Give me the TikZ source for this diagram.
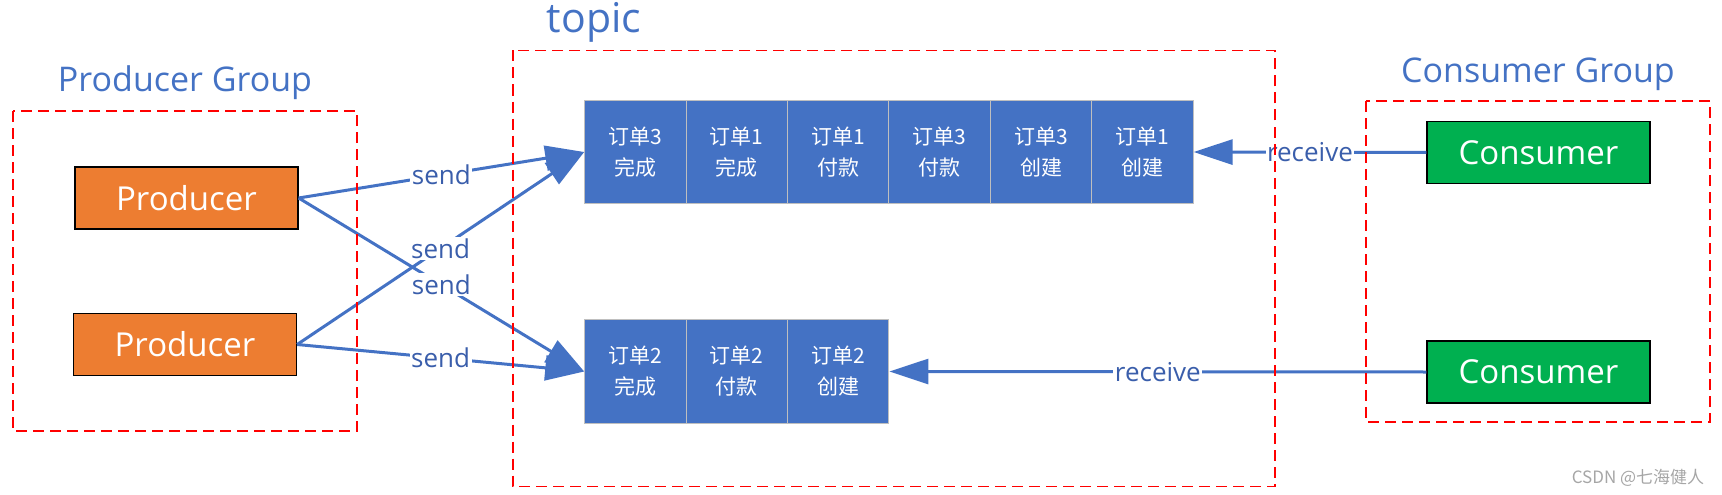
\documentclass[tikz,border=0pt]{standalone}
\usepackage{fontspec}
\setmainfont{Open Sans}
\newfontfamily\cjk{Noto Sans CJK SC}
\usetikzlibrary{arrows.meta}
\definecolor{oblue}{HTML}{4472C4}
\definecolor{lblue}{HTML}{3A5EAB}
\definecolor{oorange}{HTML}{ED7D31}
\definecolor{ogreen}{HTML}{00B050}
\definecolor{cellline}{HTML}{BFBFBF}
\definecolor{wm}{HTML}{A6A6A6}
\begin{document}
\begin{tikzpicture}[x=1pt,y=-1pt,
 groupbox/.style={draw=red, line width=1.2pt, dash pattern=on 11pt off 6pt},
 actor/.style={draw=black, line width=1.3pt, minimum width=223pt, minimum height=62pt, text=white, font=\fontsize{33}{40}\selectfont, inner sep=0pt},
 cell/.style={draw=cellline, line width=1pt, fill=oblue, minimum width=101.4pt, minimum height=103.5pt, text=white, font=\cjk\fontsize{21}{31}\selectfont, align=center, inner sep=0pt},
 title/.style={text=oblue, anchor=base, inner sep=0pt},
 link/.style={draw=oblue, line width=3pt},
 arr/.style={link, -{Triangle[length=39pt,width=25pt]}},
 lbl/.style={fill=white, text=lblue, inner sep=1.5pt, font=\fontsize{26}{30}\selectfont},
]
\useasboundingbox (0,0) rectangle (1722,495);
% cells row 1
\node[cell] (a1) at (635.4,152) {订单3\\完成};
\node[cell] (a2) at (736.8,152) {订单1\\完成};
\node[cell] (a3) at (838.2,152) {订单1\\付款};
\node[cell] (a4) at (939.6,152) {订单3\\付款};
\node[cell] (a5) at (1041.0,152) {订单3\\创建};
\node[cell] (a6) at (1142.4,152) {订单1\\创建};
% cells row 2
\node[cell] (b1) at (635.4,371.5) {订单2\\完成};
\node[cell] (b2) at (736.8,371.5) {订单2\\付款};
\node[cell] (b3) at (838.2,371.5) {订单2\\创建};
% actors
\node[actor, fill=oorange] (p1) at (186.5,198) {Producer};
\node[actor, fill=oorange] (p2) at (185,344.5) {Producer};
\node[actor, fill=ogreen] (c1) at (1538.5,152.5) {Consumer};
\node[actor, fill=ogreen] (c2) at (1538.5,372) {Consumer};
% connectors
\draw[arr] (p1.east) -- node[lbl]{send} (a1.west);
\draw[arr] (p1.east) -- node[lbl]{send} (b1.west);
\draw[arr] (p2.east) -- node[lbl]{send} (a1.west);
\draw[arr] (p2.east) -- node[lbl]{send} (b1.west);
\draw[arr] (c1.west) -- node[lbl]{receive} (a6.east);
\draw[arr] (c2.west) -- node[lbl]{receive} (b3.east);
% group boxes
\draw[groupbox] (13,111) rectangle (357,431);
\draw[groupbox] (513,50.5) rectangle (1275,486.5);
\draw[groupbox] (1366,101) rectangle (1710,422);
% titles
\node[title, font=\fontsize{34}{40}\selectfont] (tp) at (185,92) {Producer Group};
\node[title, font=\fontsize{41}{48}\selectfont] (tt) at (594,33) {topic};
\node[title, font=\fontsize{34}{40}\selectfont] (tc) at (1538,83) {Consumer Group};
\node[anchor=base, inner sep=0pt, text=wm, font=\cjk\fontsize{17}{20}\selectfont] (wmk) at (1638,483) {CSDN @七海健人};
\end{tikzpicture}
\end{document}
